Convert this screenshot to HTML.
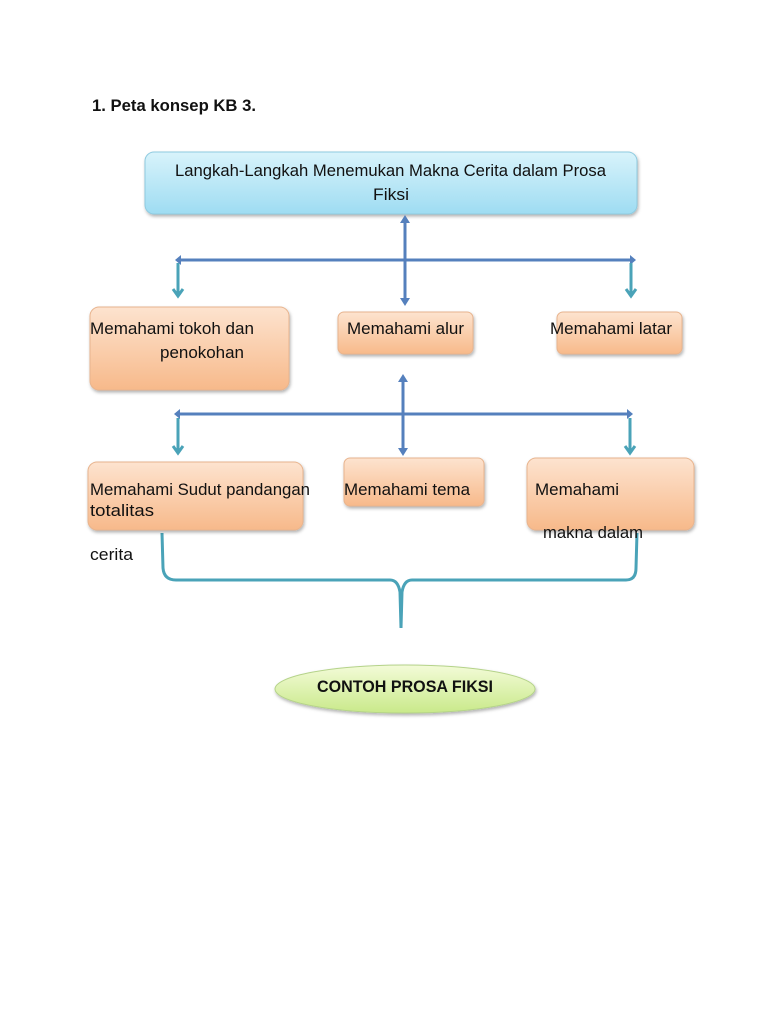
<!DOCTYPE html>
<html><head><meta charset="utf-8"><style>
html,body{margin:0;padding:0;background:#fff;}
svg{display:block;}
text{font-family:"Liberation Sans",sans-serif;fill:#111;font-size:17px;}
</style></head><body>
<svg width="768" height="1024" viewBox="0 0 768 1024" xmlns="http://www.w3.org/2000/svg">
<defs>
<linearGradient id="gb" x1="0" y1="0" x2="0" y2="1"><stop offset="0" stop-color="#d8f3fb"/><stop offset="1" stop-color="#9edcf2"/></linearGradient>
<linearGradient id="go" x1="0" y1="0" x2="0" y2="1"><stop offset="0" stop-color="#fde3cf"/><stop offset="1" stop-color="#f7b98a"/></linearGradient>
<linearGradient id="gg" x1="0" y1="0" x2="0" y2="1"><stop offset="0" stop-color="#f3fbd8"/><stop offset="1" stop-color="#c9e98a"/></linearGradient>
<filter id="sh" x="-10%" y="-10%" width="130%" height="140%"><feDropShadow dx="1" dy="2" stdDeviation="1.5" flood-color="#000" flood-opacity="0.3"/></filter>
</defs>
<g lengthAdjust="spacingAndGlyphs">
<text x="92" y="111" font-weight="bold" textLength="164" lengthAdjust="spacingAndGlyphs">1.  Peta konsep KB 3.</text>

<rect x="145" y="152" width="492" height="62" rx="9" fill="url(#gb)" stroke="#8fcbe0" filter="url(#sh)"/>
<text x="175" y="176" textLength="431" lengthAdjust="spacingAndGlyphs">Langkah-Langkah Menemukan Makna Cerita dalam Prosa</text>
<text x="373" y="200" textLength="36" lengthAdjust="spacingAndGlyphs">Fiksi</text>

<g stroke="#5580bd" stroke-width="3" fill="#5580bd">
<line x1="405" y1="220" x2="405" y2="300"/>
<line x1="178" y1="260" x2="632" y2="260"/>
<line x1="403" y1="380" x2="403" y2="450"/>
<line x1="178" y1="414" x2="630" y2="414"/>
</g>
<g fill="#5580bd">
<polygon points="405,215 400,223 410,223"/><polygon points="405,306 400,298 410,298"/>
<polygon points="175,260 181,255 181,265"/><polygon points="636,260 630,255 630,265"/>
<polygon points="403,374 398,382 408,382"/><polygon points="403,456 398,448 408,448"/>
<polygon points="174,414 180,409 180,419"/><polygon points="633,414 627,409 627,419"/>
</g>
<g stroke="#4aa3b8" stroke-width="3" fill="none">
<line x1="178" y1="263" x2="178" y2="296"/><line x1="631" y1="263" x2="631" y2="296"/>
<line x1="178" y1="418" x2="178" y2="453"/><line x1="630" y1="418" x2="630" y2="453"/>
<polyline points="173,289 178,296 183,289"/><polyline points="626,289 631,296 636,289"/>
<polyline points="173,446 178,453 183,446"/><polyline points="625,446 630,453 635,446"/>
<path d="M162,533 L163,568 Q164,580 176,580 L390,580 Q398,580 400,592 L401,628 L402,592 Q404,580 412,580 L626,580 Q636,580 636,568 L637,533"/>
</g>

<rect x="90" y="307" width="199" height="83" rx="9" fill="url(#go)" stroke="#e8b48e" filter="url(#sh)"/>
<text x="90" y="334" textLength="164" lengthAdjust="spacingAndGlyphs">Memahami tokoh dan</text>
<text x="160" y="358" textLength="84" lengthAdjust="spacingAndGlyphs">penokohan</text>
<rect x="338" y="312" width="135" height="42" rx="6" fill="url(#go)" stroke="#e8b48e" filter="url(#sh)"/>
<text x="347" y="334" textLength="117" lengthAdjust="spacingAndGlyphs">Memahami alur</text>
<rect x="557" y="312" width="125" height="42" rx="6" fill="url(#go)" stroke="#e8b48e" filter="url(#sh)"/>
<text x="550" y="334" textLength="122" lengthAdjust="spacingAndGlyphs">Memahami latar</text>

<rect x="88" y="462" width="215" height="68" rx="9" fill="url(#go)" stroke="#e8b48e" filter="url(#sh)"/>
<text x="90" y="495" textLength="220" lengthAdjust="spacingAndGlyphs">Memahami Sudut pandangan</text>
<text x="90" y="516" textLength="64" lengthAdjust="spacingAndGlyphs">totalitas</text>
<text x="90" y="560" textLength="43" lengthAdjust="spacingAndGlyphs">cerita</text>
<rect x="344" y="458" width="140" height="48" rx="6" fill="url(#go)" stroke="#e8b48e" filter="url(#sh)"/>
<text x="344" y="495" textLength="126" lengthAdjust="spacingAndGlyphs">Memahami tema</text>
<rect x="527" y="458" width="167" height="72" rx="9" fill="url(#go)" stroke="#e8b48e" filter="url(#sh)"/>
<text x="535" y="495" textLength="84" lengthAdjust="spacingAndGlyphs">Memahami</text>
<text x="543" y="538" textLength="100" lengthAdjust="spacingAndGlyphs">makna dalam</text>

<ellipse cx="405" cy="689" rx="130" ry="24" fill="url(#gg)" stroke="#b5d38a" filter="url(#sh)"/>
<text x="405" y="692" text-anchor="middle" font-weight="bold" textLength="176" lengthAdjust="spacingAndGlyphs">CONTOH PROSA FIKSI</text>
</g>
</svg>
</body></html>
